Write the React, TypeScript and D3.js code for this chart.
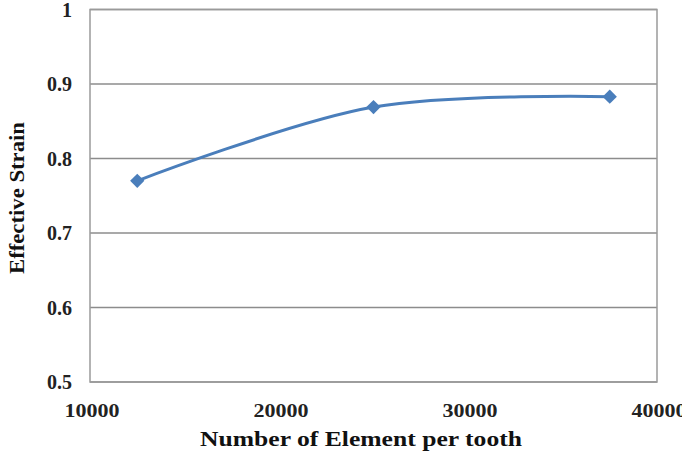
import React from "react";
import * as d3 from "d3";

const elements = [12500, 25000, 37500];
const strain = [0.77, 0.869, 0.883];
const xTicks = [10000, 20000, 30000, 40000];
const yTicks = [0.5, 0.6, 0.7, 0.8, 0.9, 1];

const W = 682, H = 452;
const M = { left: 90, right: 657, top: 9.5, bottom: 382 };

export default function App() {
  const x = d3.scaleLinear().domain([10000, 40000]).range([M.left, M.right]);
  const y = d3.scaleLinear().domain([0.5, 1]).range([M.bottom, M.top]);
  const pts = elements.map((e, i) => [x(e), y(strain[i])] as [number, number]);
  const line = d3.line().curve(d3.curveCatmullRom.alpha(0.5))(pts) || "";
  const font = "Liberation Serif";
  return (
    <svg width={W} height={H} style={{ position: "absolute", left: 0, top: 0, background: "#fff" }}>
      <rect x={0} y={0} width={W} height={H} fill="#fff" />
      {yTicks.map((t) => (
        <line key={t} x1={M.left} x2={M.right} y1={y(t)} y2={y(t)} stroke="#8c8c8c" strokeWidth={1.3} />
      ))}
      <rect x={M.left} y={M.top} width={M.right - M.left} height={M.bottom - M.top} fill="none" stroke="#9a9a9a" strokeWidth={1.5} />
      {yTicks.map((t) => (
        <text key={t} x={72} y={y(t)} dy="0.35em" textAnchor="end" fontFamily={font} fontWeight="bold" fontSize={20} fill="#222">
          {t === 1 ? "1" : t.toFixed(1)}
        </text>
      ))}
      {xTicks.map((t) => (
        <text key={t} x={x(t) + 2} y={417} textAnchor="middle" fontFamily={font} fontWeight="bold" fontSize={19} fill="#222" textLength={55} lengthAdjust="spacingAndGlyphs">
          {t}
        </text>
      ))}
      <path d={line} fill="none" stroke="#4a7ebb" strokeWidth={3} />
      {pts.map((p, i) => (
        <path key={i} d={d3.symbol(d3.symbolDiamond2, 130)() || ""} transform={`translate(${p[0]},${p[1]})`} fill="#4a7ebb" />
      ))}
      <text transform={`translate(24,198) rotate(-90)`} textAnchor="middle" fontFamily={font} fontWeight="bold" fontSize={20} fill="#111" textLength={152} lengthAdjust="spacingAndGlyphs">
        Effective Strain
      </text>
      <text x={361} y={446} textAnchor="middle" fontFamily={font} fontWeight="bold" fontSize={20} fill="#111" textLength={322} lengthAdjust="spacingAndGlyphs">
        Number of Element per tooth
      </text>
    </svg>
  );
}
